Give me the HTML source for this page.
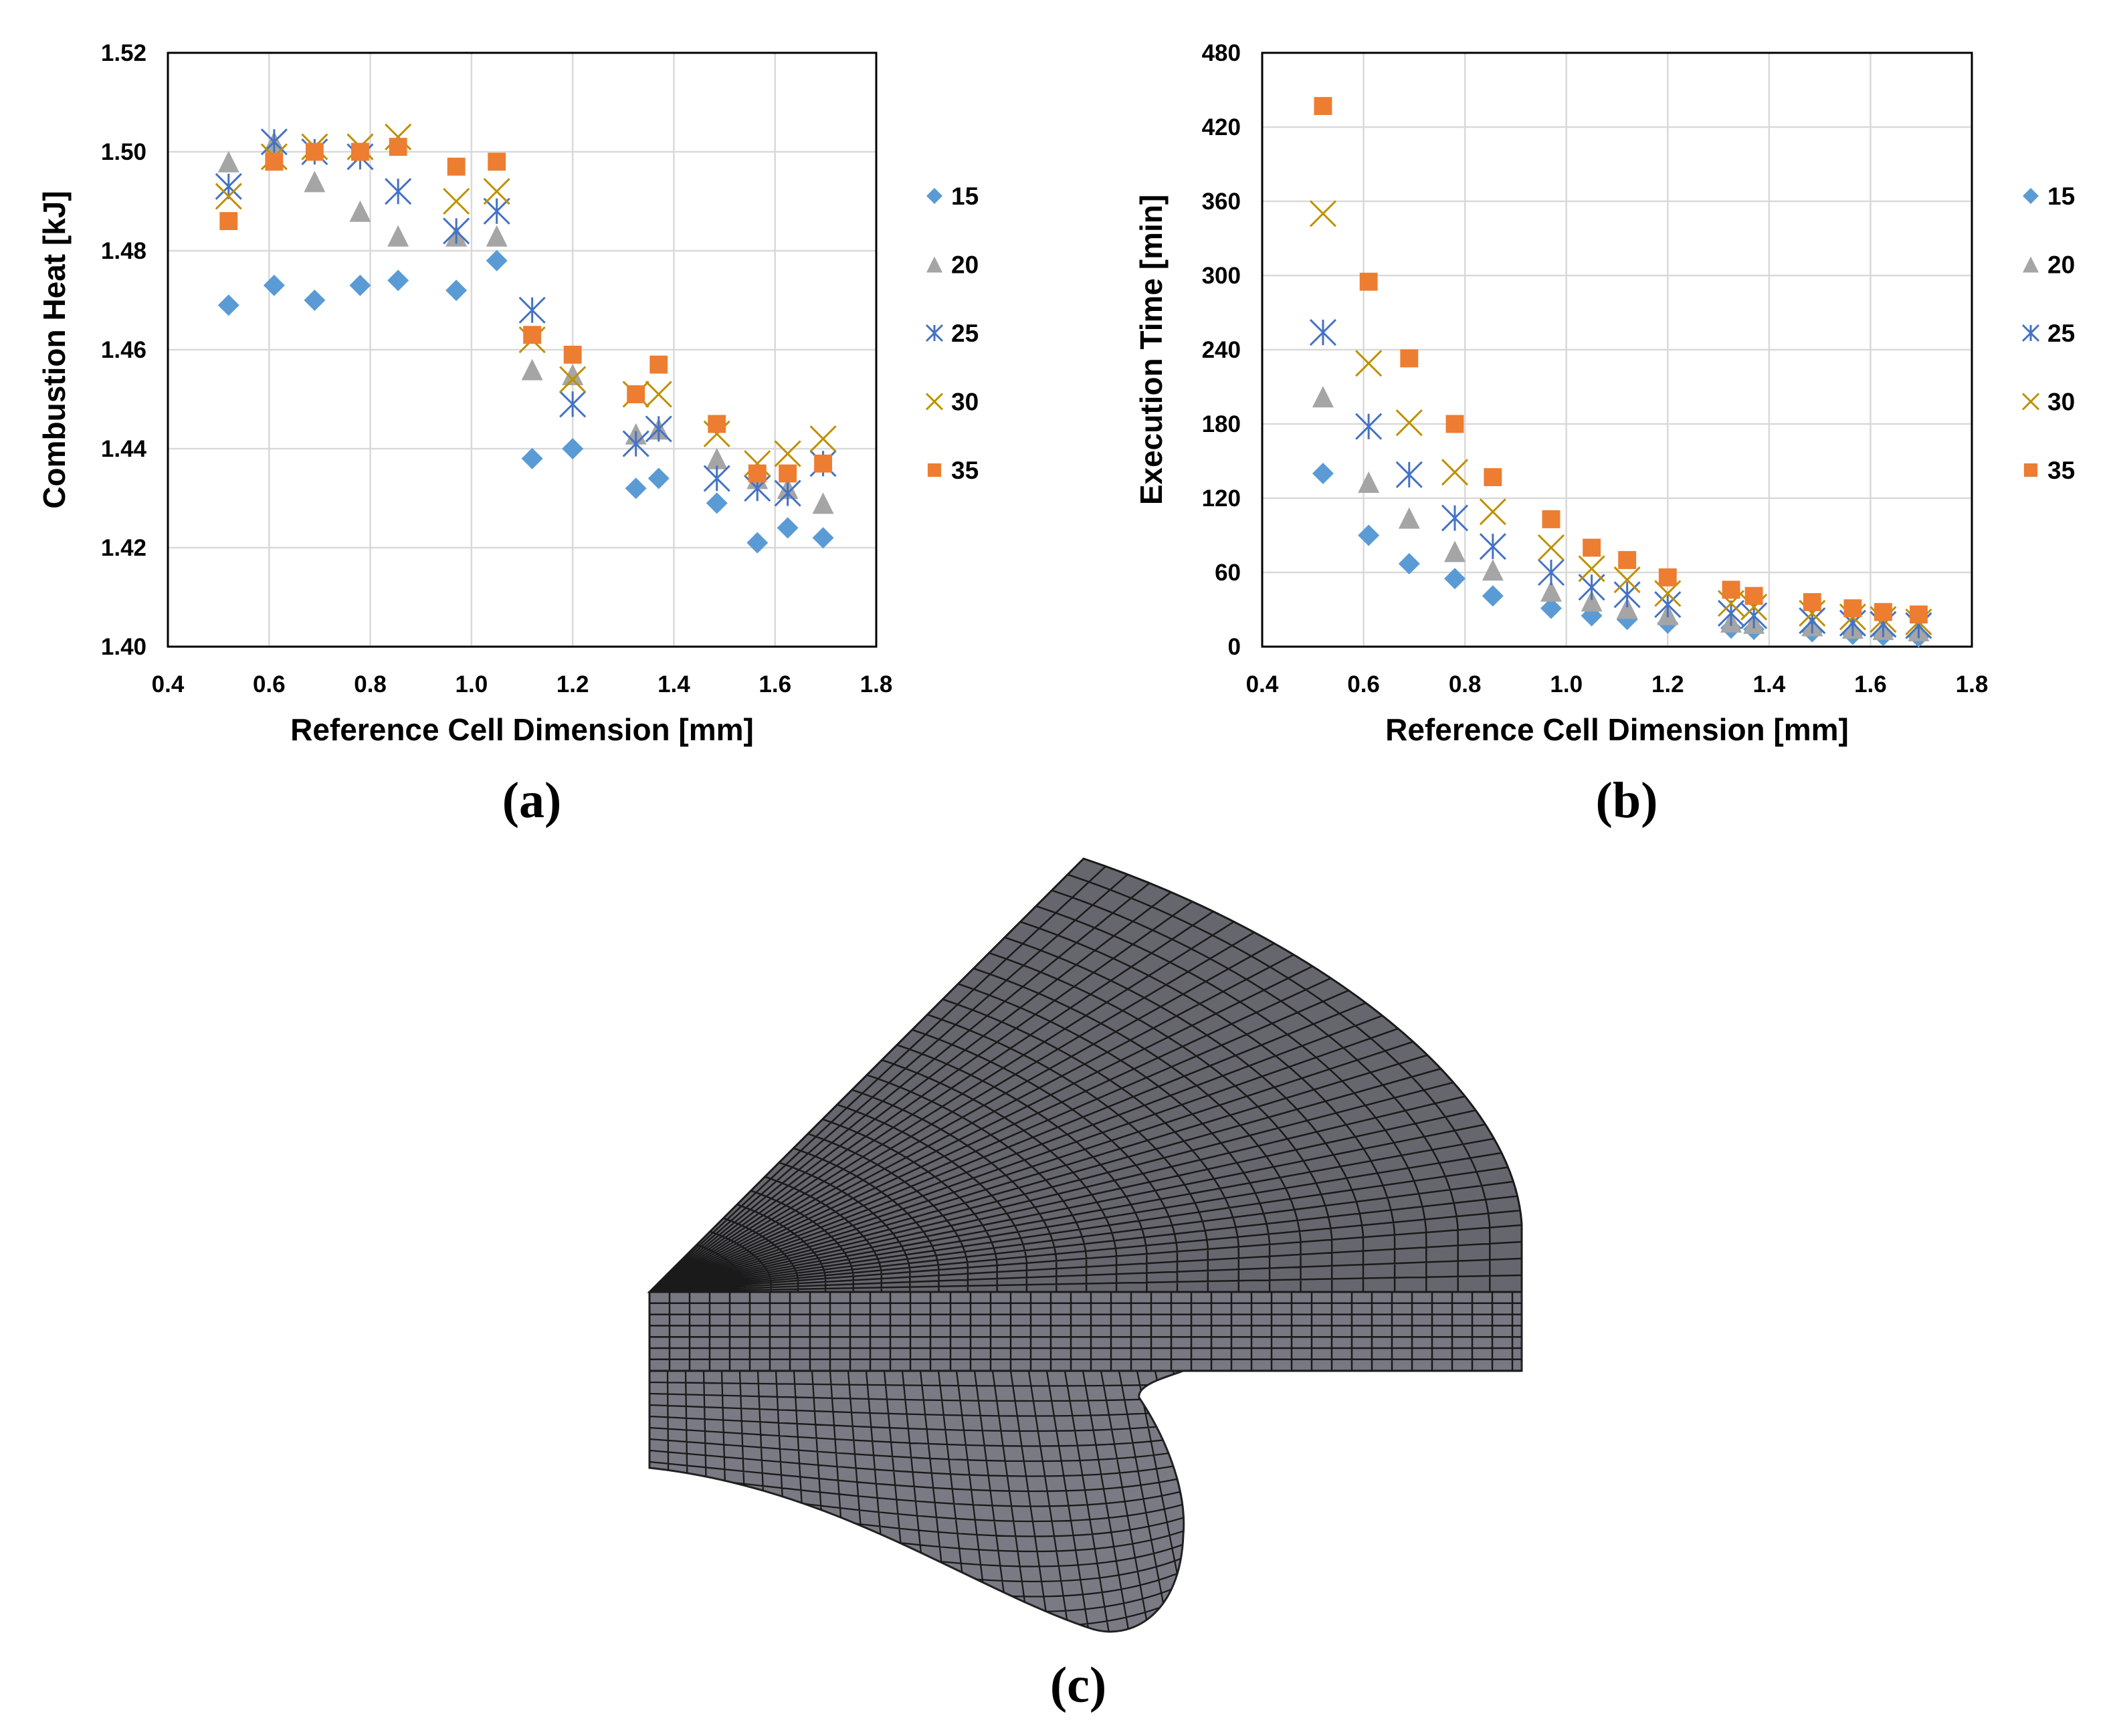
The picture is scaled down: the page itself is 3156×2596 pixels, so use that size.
<!DOCTYPE html>
<html><head><meta charset="utf-8">
<style>
html,body{margin:0;padding:0;background:#fff;}
svg{display:block;}
text{font-family:"Liberation Sans",sans-serif;}
</style></head>
<body>
<svg id="root" width="3156" height="2596" viewBox="0 0 3156 2596" xmlns="http://www.w3.org/2000/svg">
<g id="chartA"></g>
<g id="chartB"></g>
<g id="mesh"></g>
<text x="795" y="1222" font-size="76" font-weight="bold" text-anchor="middle" style="font-family:'Liberation Serif',serif">(a)</text>
<text x="2432" y="1222" font-size="76" font-weight="bold" text-anchor="middle" style="font-family:'Liberation Serif',serif">(b)</text>
<text x="1612" y="2545" font-size="76" font-weight="bold" text-anchor="middle" style="font-family:'Liberation Serif',serif">(c)</text>
</svg>
<script>
const xVals=[0.52,0.61,0.69,0.78,0.855,0.97,1.05,1.12,1.2,1.325,1.37,1.485,1.565,1.625,1.695];
const seriesNames=["15","20","25","30","35"];
const heat15=[1.469,1.473,1.470,1.473,1.474,1.472,1.478,1.438,1.440,1.432,1.434,1.429,1.421,1.424,1.422];
const heat20=[1.498,1.502,1.494,1.488,1.483,1.483,1.483,1.456,1.455,1.443,1.444,1.438,1.434,1.432,1.429];
const heat25=[1.493,1.502,1.500,1.499,1.492,1.484,1.488,1.468,1.449,1.441,1.444,1.434,1.432,1.431,1.437];
const heat30=[1.491,1.499,1.501,1.501,1.503,1.490,1.492,1.462,1.454,1.451,1.451,1.443,1.437,1.439,1.442];
const heat35=[1.486,1.498,1.500,1.500,1.501,1.497,1.498,1.463,1.459,1.451,1.457,1.445,1.435,1.435,1.437];
const time15=[140,90,67,55,41,31,25,22,19,15,14,12,10,9,8];
const time20=[202,133,104,77,62,45,37,31,26,20,19,17,15,14,13];
const time25=[254,178,139,104,81,60,48,42,34,27,25,21,19,18,17];
const time30=[350,229,181,141,109,80,63,54,43,35,32,27,24,22,20];
const time35=[437,295,233,180,137,103,80,70,56,46,41,36,31,28,26];
const xTicks=[0.4,0.6,0.8,1.0,1.2,1.4,1.6,1.8];
const heatTicks=[1.40,1.42,1.44,1.46,1.48,1.50,1.52];
const timeTicks=[0,60,120,180,240,300,360,420,480];

const NS="http://www.w3.org/2000/svg";
const colors=["#5b9bd5","#a5a5a5","#4472c4","#bf9000","#ed7d31"];
function mk(tag,attrs,parent){const e=document.createElementNS(NS,tag);for(const k in attrs)e.setAttribute(k,attrs[k]);parent.appendChild(e);return e;}

function marker(g,type,cx,cy,s,col){
  let e;
  if(type===0){e=mk('polygon',{points:`${cx},${cy-s/2} ${cx+s/2},${cy} ${cx},${cy+s/2} ${cx-s/2},${cy}`,fill:col},g);}
  else if(type===1){e=mk('polygon',{points:`${cx},${cy-s/2} ${cx+s/2},${cy+s/2} ${cx-s/2},${cy+s/2}`,fill:col},g);}
  else if(type===2){const h=s/2;e=mk('path',{d:`M${cx-h},${cy-h}L${cx+h},${cy+h}M${cx+h},${cy-h}L${cx-h},${cy+h}M${cx},${cy-h}L${cx},${cy+h}`,stroke:col,'stroke-width':3,fill:'none'},g);}
  else if(type===3){const h=s/2;e=mk('path',{d:`M${cx-h},${cy-h}L${cx+h},${cy+h}M${cx+h},${cy-h}L${cx-h},${cy+h}`,stroke:col,'stroke-width':3,fill:'none'},g);}
  else {const h=s*0.42;e=mk('rect',{x:cx-h,y:cy-h,width:2*h,height:2*h,fill:col},g);}
  return e;
}

function chart(g,L,R,T,B,yTicks,yFmt,series,yTitle,yTitleX,legX){
  const xmin=0.4,xmax=1.8,ymin=yTicks[0],ymax=yTicks[yTicks.length-1];
  const X=v=>L+(v-xmin)/(xmax-xmin)*(R-L);
  const Y=v=>B-(v-ymin)/(ymax-ymin)*(B-T);
  xTicks.forEach(t=>{const gl=mk('line',{x1:X(t),x2:X(t),y1:T,y2:B,stroke:'#d9d9d9','stroke-width':2.5},g);
    
    const tx=mk('text',{x:X(t),y:1035,'font-size':35,'font-weight':'bold','text-anchor':'middle'},g);tx.textContent=t.toFixed(1);
    });
  yTicks.forEach(t=>{const gl=mk('line',{x1:L,x2:R,y1:Y(t),y2:Y(t),stroke:'#d9d9d9','stroke-width':2.5},g);
    
    const tx=mk('text',{x:L-32,y:Y(t)+12,'font-size':35,'font-weight':'bold','text-anchor':'end'},g);tx.textContent=yFmt(t);
    });
  const fr=mk('rect',{x:L,y:T,width:R-L,height:B-T,fill:'none',stroke:'#000','stroke-width':3},g);
  
  series.forEach((vals,si)=>{const sg=mk('g',{},g);
    
    vals.forEach((v,i)=>{const m=marker(sg,si,X(xVals[i]),Y(v),si===2||si===3?38:32,colors[si]);
      });
    const ly=293+si*102.5;
    const lm=marker(g,si,legX,ly,24,colors[si]);
    
    const lt=mk('text',{x:legX+25,y:ly+13,'font-size':37,'font-weight':'bold'},g);lt.textContent=seriesNames[si];
    });
  const xt=mk('text',{x:(L+R)/2,y:1107,'font-size':46,'font-weight':'bold','text-anchor':'middle'},g);xt.textContent='Reference Cell Dimension [mm]';
  
  const yt=mk('text',{x:0,y:0,'font-size':46,'font-weight':'bold','text-anchor':'middle',transform:`translate(${yTitleX},${(T+B)/2}) rotate(-90)`},g);yt.textContent=yTitle;
  
}
chart(document.getElementById('chartA'),251,1310,79,967,heatTicks,t=>t.toFixed(2),[heat15,heat20,heat25,heat30,heat35],'Combustion Heat [kJ]',97,1397);
chart(document.getElementById('chartB'),1887,2948,79,967,timeTicks,t=>String(t),[time15,time20,time25,time30,time35],'Execution Time [min]',1737,3036);

// mesh illustration
(function(){
  const g=document.getElementById('mesh');
  const V=[971,1932];
  const defs=mk('defs',{},g);
  const cp=mk('clipPath',{id:'lowclip'},defs);
  const lowD='M971,2050 L1769,2050 C1735,2062 1700,2072 1703,2090 C1740,2145 1775,2225 1769,2295 C1765,2415 1690,2455 1630,2435 C1450,2375 1250,2225 971,2195 Z';
  mk('path',{d:lowD},cp);
  const fanD='M971,1932 L1620,1284 C1950,1395 2260,1615 2275,1830 L2275,1932 Z';
  const fan=mk('path',{d:fanD,fill:'#66666e',stroke:'#222','stroke-width':3},g);
  
  function outer(t){
    if(t<0.88){const u=t/0.88,a=1-u;
      return [a*a*a*1620+3*a*a*u*1950+3*a*u*u*2260+u*u*u*2275, a*a*a*1284+3*a*a*u*1395+3*a*u*u*1615+u*u*u*1830];}
    const u=(t-0.88)/0.12;return [2275,1830+u*102];}
  let d='';
  for(let i=0;i<=34;i++){const p=outer(i/34);d+=`M${V[0]},${V[1]}L${p[0]},${p[1]}`;}
  for(let k=1;k<=30;k++){const s=Math.pow(k/30,1.1);let first=true;
    for(let i=0;i<=40;i++){const p=outer(i/40);const x=V[0]+(p[0]-V[0])*s,y=V[1]+(p[1]-V[1])*s;d+=(first?'M':'L')+x.toFixed(1)+','+y.toFixed(1);first=false;}}
  mk('path',{d:d,stroke:'#1a1a1a','stroke-width':2.5,fill:'none'},g);
  const rb=mk('rect',{x:971,y:1932,width:1304,height:118,fill:'#787882',stroke:'#222','stroke-width':3},g);
  
  let d2='';
  for(let x=971;x<=2275;x+=30)d2+=`M${x},1932L${x},2050`;
  for(let y=1932;y<=2050;y+=16.8)d2+=`M971,${y}L2275,${y}`;
  mk('path',{d:d2,stroke:'#1a1a1a','stroke-width':2.5,fill:'none'},g);
  const low=mk('path',{d:lowD,fill:'#7a7a84',stroke:'#222','stroke-width':3},g);
  
  const lg=mk('g',{'clip-path':'url(#lowclip)'},g);
  let d3='';
  for(let i=0;i<=30;i++){const x=971+i*27;d3+=`M${x},2050 L${x+i*3},2460`;}
  for(let j=0;j<=24;j++){const y=2050+j*17;d3+=`M971,${y} C1300,${y+j*4} 1600,${y+j*9} 1800,${y+j*2}`;}
  mk('path',{d:d3,stroke:'#1a1a1a','stroke-width':2.3,fill:'none'},lg);
})();
</script>
</body></html>
